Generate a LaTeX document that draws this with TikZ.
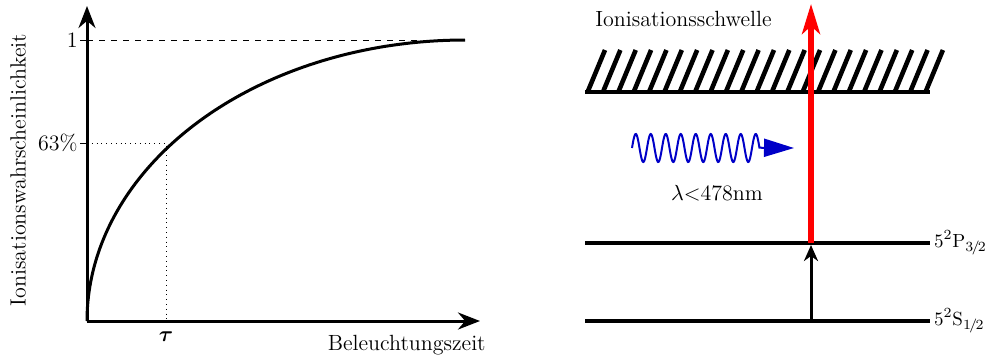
\documentclass[tikz,border=0pt]{standalone}
\usepackage{tikz}
\usetikzlibrary{positioning,arrows.meta}
\usepackage{amsmath}
\definecolor{Wellenblau}{HTML}{0000C8}
\definecolor{Laserrot}{HTML}{FF0000}

\tikzset{
  achse/.style={line width=1.5pt,-{Stealth[length=11pt,width=8.5pt]}},
  kurve/.style={line width=1.5pt},
  niveau/.style={line width=2pt},
  schraffur/.style={line width=2.3pt},
  beschriftung/.style={font=\fontsize{11}{13}\selectfont,inner sep=1pt},
  termlabel/.style={font=\fontsize{9.5}{11}\selectfont,inner sep=0pt,anchor=west,xshift=1pt},
}
\newcommand{\bruch}[2]{#1\mkern-2mu/\mkern-2mu#2}

\begin{document}
\begin{tikzpicture}[x=0.5pt,y=-0.5pt]
        \useasboundingbox (0,0) rectangle (985,361);
        % linkes Diagramm
        \coordinate (ursprung) at (87,321);
        \coordinate (yspitze) at (87,6);
        \coordinate (xspitze) at (480,321);
        \coordinate (eins) at (87,40);
        \coordinate (ende) at (465,40);
        \coordinate (punkt) at (166,143);
        \coordinate (achsetau) at (166,321);
        \coordinate (achse63) at (87,143);
        \draw[dashed,thin] (eins) -- (ende);
        \draw[dotted,thin] (achse63) -- (punkt) -- (achsetau);
        \draw[thin] (eins) -- ++(-7,0) node[beschriftung,anchor=east] (l1) {1};
        \draw[thin] (achse63) -- ++(-7,0) node[beschriftung,anchor=east] (l63) {63\%};
        \draw[kurve] plot[domain=180:270,samples=90] ({465+378*cos(\x)},{321+281*sin(\x)});
        \draw[achse] (ursprung) -- (yspitze);
        \draw[achse] (ursprung) -- (xspitze);
        \node[beschriftung,below=4pt of achsetau] (tau) {$\boldsymbol{\tau}$};
        \node[beschriftung,anchor=north east] (xlabel) at (488,333) {Beleuchtungszeit};
        \node[beschriftung,rotate=90] (ylabel) at (18,170) {Ionisationswahrscheinlichkeit};
        % rechtes Diagramm
        \node[beschriftung,anchor=west] (schwelle) at (593,19) {Ionisationsschwelle};
        \coordinate (grenzeL) at (585,92);
        \coordinate (grenzeR) at (930,92);
        \foreach \i in {0,...,22} {\draw[schraffur] (588+15.36*\i,91) -- ++(17,-41);}
        \draw[niveau] (grenzeL) -- (grenzeR);
        \coordinate (pL) at (585,243);
        \coordinate (pR) at (930,243);
        \coordinate (sL) at (585,321);
        \coordinate (sR) at (930,321);
        \draw[niveau] (pL) -- (pR) node[termlabel] (pP) {5$^2$P$_{\bruch{3}{2}}$};
        \draw[niveau] (sL) -- (sR) node[termlabel] (pS) {5$^2$S$_{\bruch{1}{2}}$};
        \coordinate (sMitte) at (811,321);
        \coordinate (pMitte) at (811,243);
        \coordinate (rotSpitze) at (811,4);
        \draw[line width=1.5pt,-{Stealth[length=8pt,width=7pt,inset=2.5pt]}] (sMitte) -- ([yshift=-1pt]pMitte);
        \draw[Laserrot,line width=2.6pt,-{Stealth[length=15pt,width=9pt,inset=4pt]}] (pMitte) -- (rotSpitze);
        \draw[Wellenblau,line width=1pt,-{Triangle[length=15pt,width=9pt]}]
          plot[domain=0:8.5,samples=260] ({632+15*\x},{148-14*sin(360*\x)}) -- (794,148);
        \node[beschriftung] (lambda) at (717,193) {$\lambda$<478nm};
      \end{tikzpicture}
\end{document}
